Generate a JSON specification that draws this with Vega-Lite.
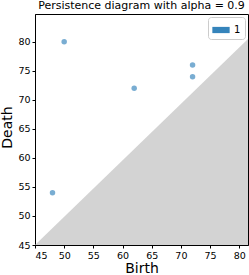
{
  "$schema": "https://vega.github.io/schema/vega-lite/v6.json",
  "width": 213,
  "height": 231,
  "autosize": "none",
  "padding": {"left": 35, "top": 14, "right": 1, "bottom": 30},
  "background": "white",
  "config": {
    "font": "DejaVu Sans",
    "view": {"stroke": "black", "strokeWidth": 1},
    "axis": {"grid": false, "domainColor": "black", "tickColor": "black", "tickSize": 3, "labelFontSize": 9.5, "labelColor": "black", "labelOverlap": false, "labelPadding": 2, "titleFontWeight": "normal", "titleFontSize": 14, "titleColor": "black", "labelFont": "DejaVu Sans", "titleFont": "DejaVu Sans"}
  },
  "title": {"text": "Persistence diagram with alpha = 0.9", "fontSize": 11, "fontWeight": "normal", "font": "DejaVu Sans", "offset": 3, "color": "black"},
  "datasets": {
    "diag": [{"b": 45, "d": 45, "base": 45}, {"b": 81.5, "d": 80.5, "base": 45}],
    "pts": [
      {"b": 48, "d": 54, "dim": "1"},
      {"b": 50, "d": 80, "dim": "1"},
      {"b": 62, "d": 72, "dim": "1"},
      {"b": 72, "d": 76, "dim": "1"},
      {"b": 72, "d": 74, "dim": "1"}
    ]
  },
  "encoding": {
    "x": {"field": "b", "type": "quantitative", "scale": {"domain": [45, 81.5], "nice": false, "zero": false}, "axis": {"values": [45, 50, 55, 60, 65, 70, 75, 80], "labelOverlap": false, "title": "Birth", "titlePadding": 2}},
    "y": {"field": "d", "type": "quantitative", "scale": {"domain": [45, 84.8], "nice": false, "zero": false}, "axis": {"values": [45, 50, 55, 60, 65, 70, 75, 80], "labelOverlap": false, "title": "Death", "titleX": -28, "titleY": 113, "titleBaseline": "middle", "titleAlign": "center", "titleAngle": 270}}
  },
  "layer": [
    {
      "data": {"name": "diag"},
      "mark": {"type": "area", "color": "#d3d3d3", "clip": true},
      "encoding": {
        "y2": {"field": "base"}
      }
    },
    {
      "data": {"name": "pts"},
      "mark": {"type": "circle", "size": 30, "opacity": 0.6},
      "encoding": {
        "color": {"field": "dim", "type": "nominal", "scale": {"domain": ["1"], "range": ["#1f77b4"]},
          "legend": {"title": null, "orient": "top-right", "offset": 3, "padding": 4, "strokeColor": "#cccccc", "fillColor": "white", "cornerRadius": 3, "symbolType": "M-1,-0.36H1V0.36H-1Z", "symbolSize": 300, "symbolOpacity": 0.9, "symbolStrokeWidth": 0, "labelFontSize": 10, "labelColor": "black", "labelFont": "DejaVu Sans"}}
      }
    }
  ]
}
